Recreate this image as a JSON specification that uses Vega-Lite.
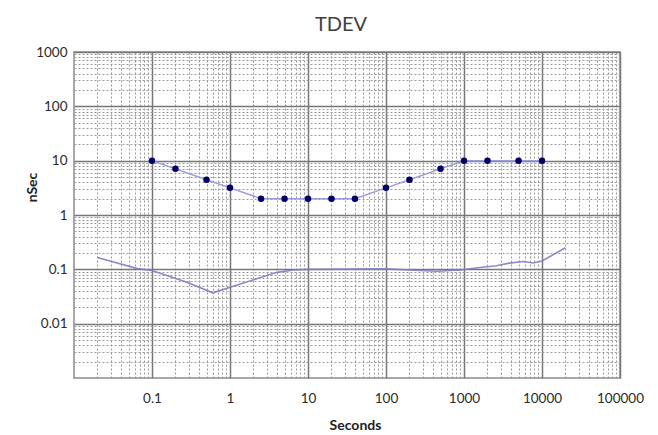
{
  "$schema": "https://vega.github.io/schema/vega-lite/v6.json",
  "width": 546,
  "height": 326,
  "autosize": {"type": "none"},
  "padding": {"left": 74, "top": 52, "right": 38, "bottom": 57},
  "background": "white",
  "title": {"text": "TDEV", "font": "Lato", "fontSize": 20, "fontWeight": "normal", "color": "#404040", "dx": -6, "dy": 16, "offset": 10, "baseline": "alphabetic"},
  "config": {
    "view": {"stroke": "#8c8c8c", "strokeWidth": 1.5},
    "axis": {"labelFont": "Lato", "labelFontSize": 13.5, "labelColor": "#2a2a2a", "titleFont": "Lato", "titleFontSize": 14, "titleFontWeight": "bold", "titleColor": "#222222"}
  },
  "datasets": {
    "upper": [
      {"seconds": 0.1, "nsec": 10},
      {"seconds": 0.2, "nsec": 7.07},
      {"seconds": 0.5, "nsec": 4.47},
      {"seconds": 1, "nsec": 3.16},
      {"seconds": 2.5, "nsec": 2},
      {"seconds": 5, "nsec": 2},
      {"seconds": 10, "nsec": 2},
      {"seconds": 20, "nsec": 2},
      {"seconds": 40, "nsec": 2},
      {"seconds": 100, "nsec": 3.16},
      {"seconds": 200, "nsec": 4.47},
      {"seconds": 500, "nsec": 7.07},
      {"seconds": 1000, "nsec": 10},
      {"seconds": 2000, "nsec": 10},
      {"seconds": 5000, "nsec": 10},
      {"seconds": 10000, "nsec": 10}
    ],
    "lower": [
      {"seconds": 0.02, "nsec": 0.165},
      {"seconds": 0.065, "nsec": 0.103},
      {"seconds": 0.1, "nsec": 0.095},
      {"seconds": 0.28, "nsec": 0.058},
      {"seconds": 0.6, "nsec": 0.037},
      {"seconds": 1.1, "nsec": 0.049},
      {"seconds": 2.2, "nsec": 0.067},
      {"seconds": 4, "nsec": 0.088},
      {"seconds": 6.5, "nsec": 0.097},
      {"seconds": 10, "nsec": 0.1},
      {"seconds": 30, "nsec": 0.101},
      {"seconds": 100, "nsec": 0.102},
      {"seconds": 200, "nsec": 0.097},
      {"seconds": 450, "nsec": 0.092},
      {"seconds": 900, "nsec": 0.097},
      {"seconds": 1500, "nsec": 0.107},
      {"seconds": 2600, "nsec": 0.116},
      {"seconds": 3800, "nsec": 0.13},
      {"seconds": 5800, "nsec": 0.139},
      {"seconds": 7700, "nsec": 0.131},
      {"seconds": 10000, "nsec": 0.142},
      {"seconds": 20000, "nsec": 0.25}
    ]
  },
  "resolve": {"axis": {"x": "independent", "y": "independent"}},
  "layer": [
    {
      "data": {"name": "lower"},
      "mark": {"type": "line", "color": "#7d7dc6", "strokeWidth": 1.6, "opacity": 0.9},
      "encoding": {
        "x": {"field": "seconds", "type": "quantitative",
          "scale": {"type": "log", "domain": [0.01, 100000], "nice": false},
          "axis": {"orient": "bottom", "values": [0.02,0.03,0.04,0.05,0.06,0.07,0.08,0.09,0.2,0.3,0.4,0.5,0.6,0.7,0.8,0.9,2,3,4,5,6,7,8,9,20,30,40,50,60,70,80,90,200,300,400,500,600,700,800,900,2000,3000,4000,5000,6000,7000,8000,9000,20000,30000,40000,50000,60000,70000,80000,90000],
            "grid": true, "gridColor": "#9a9a9a", "gridDash": [2, 2], "gridWidth": 1, "labels": false, "ticks": false, "domain": false, "title": null}},
        "y": {"field": "nsec", "type": "quantitative",
          "scale": {"type": "log", "domain": [0.001, 1000], "nice": false},
          "axis": {"orient": "left", "values": [0.002,0.003,0.004,0.005,0.006,0.007,0.008,0.009,0.02,0.03,0.04,0.05,0.06,0.07,0.08,0.09,0.2,0.3,0.4,0.5,0.6,0.7,0.8,0.9,2,3,4,5,6,7,8,9,20,30,40,50,60,70,80,90,200,300,400,500,600,700,800,900],
            "grid": true, "gridColor": "#9a9a9a", "gridDash": [2, 2], "gridWidth": 1, "labels": false, "ticks": false, "domain": false, "title": null}}
      }
    },
    {
      "data": {"name": "upper"},
      "mark": {"type": "line", "color": "#9c9cdb", "strokeWidth": 1.5, "point": {"filled": true, "color": "#00006b", "size": 42, "opacity": 1}},
      "encoding": {
        "x": {"field": "seconds", "type": "quantitative",
          "scale": {"type": "log", "domain": [0.01, 100000], "nice": false},
          "axis": {"orient": "bottom", "values": [0.1, 1, 10, 100, 1000, 10000, 100000], "format": "~g",
            "grid": true, "gridColor": "#777777", "gridWidth": 1.5, "ticks": false, "domain": false, "labelPadding": 13, "labelFlush": false,
            "title": "Seconds", "titleX": 281, "titleY": 47, "titleBaseline": "middle"}},
        "y": {"field": "nsec", "type": "quantitative",
          "scale": {"type": "log", "domain": [0.001, 1000], "nice": false},
          "axis": {"orient": "left", "values": [0.01, 0.1, 1, 10, 100, 1000], "format": "~g",
            "grid": true, "gridColor": "#777777", "gridWidth": 1.5, "ticks": false, "domain": false, "labelPadding": 7, "labelFlush": false,
            "title": "nSec", "titleX": -42, "titleY": 135, "titleBaseline": "middle", "titleAngle": -90}}
      }
    }
  ]
}
